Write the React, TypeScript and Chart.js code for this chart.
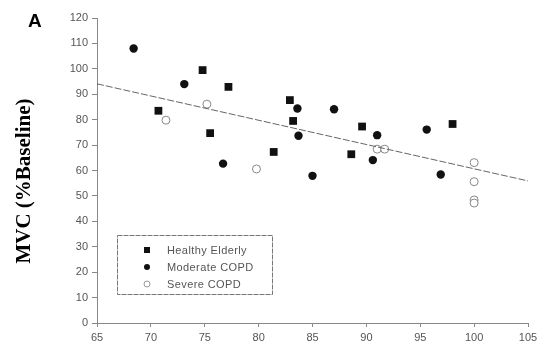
import React, { useEffect, useRef } from 'react';
import { Chart, registerables } from 'chart.js';
Chart.register(...registerables);

const seriesNames = ['Healthy Elderly', 'Moderate COPD', 'Severe COPD'];
const healthyX = [70.7, 74.8, 75.5, 77.2, 81.4, 82.9, 83.2, 88.6, 89.6, 98.0];
const healthyY = [83.5, 99.5, 74.7, 92.9, 67.3, 87.7, 79.5, 66.4, 77.3, 78.3];
const moderateX = [68.4, 73.1, 76.7, 83.6, 83.7, 85.0, 87.0, 91.0, 90.6, 95.6, 96.9];
const moderateY = [108, 94.0, 62.7, 84.4, 73.7, 57.9, 84.1, 73.9, 64.1, 76.1, 58.4];
const severeX = [71.4, 75.2, 79.8, 91.0, 91.7, 100, 100, 100, 100];
const severeY = [79.8, 86.1, 60.6, 68.4, 68.4, 63.1, 55.6, 48.4, 47.2];
const fitX = [65, 105];
const fitY = [94.1, 55.9];
const yTitle = 'MVC (%Baseline)';
const panelLabel = 'A';

const toPts = (xs: number[], ys: number[]) => xs.map((x, i) => ({ x, y: ys[i] }));

const overlayPlugin = {
  id: 'overlay',
  afterDraw(chart: any) {
    const ctx = chart.ctx;
    ctx.save();
    // panel label
    ctx.fillStyle = '#000';
    ctx.font = 'bold 19px Arial, "Liberation Sans", sans-serif';
    ctx.textAlign = 'left';
    ctx.textBaseline = 'alphabetic';
    ctx.fillText(panelLabel, 28, 27);
    // y title
    ctx.save();
    ctx.translate(30, 181);
    ctx.rotate(-Math.PI / 2);
    ctx.font = 'bold 21px "Liberation Serif", "Times New Roman", serif';
    ctx.textAlign = 'center';
    ctx.textBaseline = 'alphabetic';
    ctx.fillStyle = '#000';
    ctx.fillText(yTitle, 0, 0);
    ctx.restore();
    // legend box
    const bx = 117, by = 235, bw = 155, bh = 59;
    ctx.strokeStyle = '#777';
    ctx.lineWidth = 1;
    ctx.setLineDash([5, 1]);
    ctx.strokeRect(bx + 0.5, by + 0.5, bw, bh);
    ctx.setLineDash([]);
    const rows = [250, 267, 284];
    ctx.font = '11px Arial, "Liberation Sans", sans-serif';
    try { (ctx as any).letterSpacing = '0.4px'; } catch (e) {}
    ctx.textBaseline = 'middle';
    ctx.textAlign = 'left';
    seriesNames.forEach((name, i) => {
      const y = rows[i];
      const x = 147;
      ctx.beginPath();
      if (i === 0) {
        ctx.fillStyle = '#111';
        ctx.fillRect(x - 3, y - 3, 6, 6);
      } else if (i === 1) {
        ctx.fillStyle = '#111';
        ctx.arc(x, y, 3, 0, Math.PI * 2);
        ctx.fill();
      } else {
        ctx.fillStyle = '#fff';
        ctx.strokeStyle = '#999';
        ctx.arc(x, y, 3, 0, Math.PI * 2);
        ctx.fill();
        ctx.stroke();
      }
      ctx.fillStyle = '#555';
      ctx.fillText(name, 167, y + 0.5);
    });
    ctx.restore();
  },
};

export default function App() {
  const ref = useRef<HTMLCanvasElement | null>(null);
  useEffect(() => {
    if (!ref.current) return;
    const chart = new Chart(ref.current, {
      type: 'scatter',
      data: {
        datasets: [
          {
            label: 'fit',
            data: toPts(fitX, fitY),
            showLine: true,
            borderColor: '#666',
            borderWidth: 1,
            borderDash: [7, 2],
            pointRadius: 0,
          } as any,
          {
            label: seriesNames[0],
            data: toPts(healthyX, healthyY),
            pointStyle: 'rect',
            pointRadius: 5.5,
            backgroundColor: '#111',
            borderColor: '#111',
            borderWidth: 0,
          },
          {
            label: seriesNames[1],
            data: toPts(moderateX, moderateY),
            pointStyle: 'circle',
            pointRadius: 4.2,
            backgroundColor: '#111',
            borderColor: '#111',
            borderWidth: 0,
          },
          {
            label: seriesNames[2],
            data: toPts(severeX, severeY),
            pointStyle: 'circle',
            pointRadius: 4,
            backgroundColor: '#fff',
            borderColor: '#888',
            borderWidth: 1,
          },
        ],
      },
      options: {
        animation: false,
        responsive: false,
        maintainAspectRatio: false,
        layout: { padding: { left: 0, top: 18, right: 16, bottom: 0 } },
        plugins: {
          legend: { display: false },
          tooltip: { enabled: false },
          title: { display: false },
        },
        scales: {
          x: {
            type: 'linear',
            min: 65,
            max: 105,
            ticks: {
              stepSize: 5,
              color: '#555',
              font: { size: 11, family: 'Arial, "Liberation Sans", sans-serif' },
              padding: 4,
              maxRotation: 0,
            },
            grid: { display: true, drawOnChartArea: false, drawTicks: true, tickLength: 4, color: '#888' },
            border: { display: true, color: '#888', width: 1, dash: [6, 1] },
            afterFit: (s: any) => { s.height = 28; },
          },
          y: {
            type: 'linear',
            min: 0,
            max: 120,
            ticks: {
              stepSize: 10,
              color: '#555',
              font: { size: 11, family: 'Arial, "Liberation Sans", sans-serif' },
              padding: 4,
            },
            grid: { display: true, drawOnChartArea: false, drawTicks: true, tickLength: 5, color: '#888' },
            border: { display: true, color: '#888', width: 1, dash: [6, 1] },
            afterFit: (s: any) => { s.width = 97; },
          },
        },
      },
      plugins: [overlayPlugin],
    } as any);
    return () => chart.destroy();
  }, []);
  return (
    <div style={{ position: 'fixed', left: 0, top: 0, width: 544, height: 351, background: '#fff' }}>
      <canvas ref={ref} width={544} height={351} style={{ display: 'block', width: 544, height: 351 }} />
    </div>
  );
}
